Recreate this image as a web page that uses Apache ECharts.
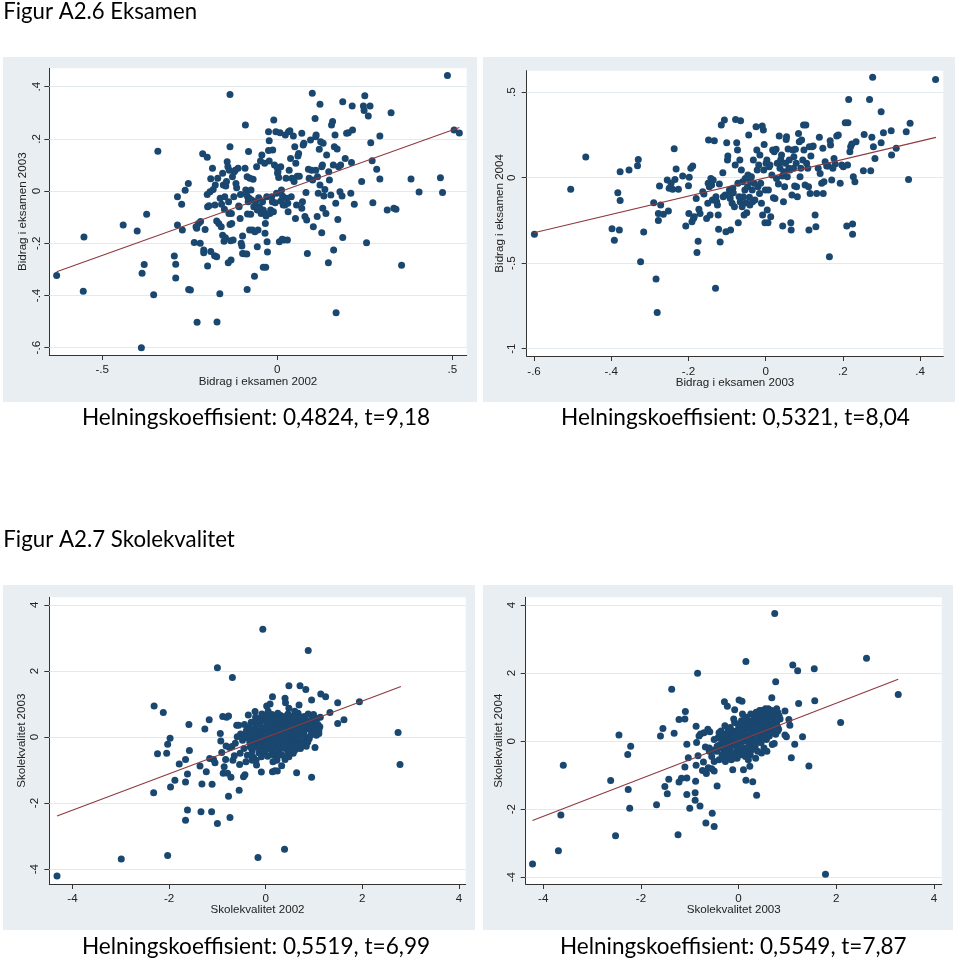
<!DOCTYPE html>
<html><head><meta charset="utf-8">
<script src="https://cdn.jsdelivr.net/npm/echarts@6/dist/echarts.min.js"></script>
<style>html,body{margin:0;padding:0;background:#fff}#c{width:960px;height:959px}</style>
</head><body><div id="c"></div>
<script>
// ---------------- DATA ----------------
const figureTitles = ['Figur A2.6 Eksamen', 'Figur A2.7 Skolekvalitet'];
const captions = [
  'Helningskoeffisient: 0,4824, t=9,18',
  'Helningskoeffisient: 0,5321, t=8,04',
  'Helningskoeffisient: 0,5519, t=6,99',
  'Helningskoeffisient: 0,5549, t=7,87'
];
const xNames = ['Bidrag i eksamen 2002', 'Bidrag i eksamen 2003', 'Skolekvalitet 2002', 'Skolekvalitet 2003'];
const yNames = ['Bidrag i eksamen 2003', 'Bidrag i eksamen 2004', 'Skolekvalitet 2003', 'Skolekvalitet 2004'];

const exam0203XTicks = [-0.5, 0, 0.5];
const exam0203YTicks = [-0.6, -0.4, -0.2, 0, 0.2, 0.4];
const exam0304XTicks = [-0.6, -0.4, -0.2, 0, 0.2, 0.4];
const exam0304YTicks = [-1, -0.5, 0, 0.5];
const schoolXTicks = [-4, -2, 0, 2, 4];
const schoolYTicks = [-4, -2, 0, 2, 4];

const exam02_03 = [
[-0.630,-0.324],[-0.552,-0.176],[-0.554,-0.384],[-0.440,-0.130],[-0.400,-0.153],[-0.386,-0.315],[-0.380,-0.281],[-0.388,-0.600],[-0.373,-0.089],[-0.353,-0.397],
[-0.341,0.152],[-0.294,-0.249],[-0.290,-0.280],[-0.290,-0.333],[-0.285,-0.022],[-0.285,-0.130],[-0.273,-0.051],[-0.271,-0.149],[-0.263,0.003],[-0.254,0.029],
[-0.253,-0.377],[-0.248,-0.379],[-0.237,-0.197],[-0.232,-0.137],[-0.230,-0.143],[-0.229,-0.503],[-0.225,-0.124],[-0.220,-0.200],[-0.219,-0.117],[-0.213,0.143],
[-0.210,-0.226],[-0.210,-0.236],[-0.206,-0.147],[-0.200,0.129],[-0.200,-0.013],[-0.199,-0.060],[-0.199,-0.287],[-0.195,-0.056],[-0.192,-0.003],[-0.190,-0.232],
[-0.190,0.047],[-0.185,0.087],[-0.183,0.006],[-0.179,-0.248],[-0.178,-0.054],[-0.177,0.023],[-0.173,-0.252],[-0.173,-0.115],[-0.172,-0.502],[-0.170,0.049],
[-0.167,-0.124],[-0.164,-0.393],[-0.163,-0.028],[-0.160,-0.137],[-0.159,-0.051],[-0.156,0.068],[-0.156,-0.169],[-0.154,0.023],[-0.152,-0.192],[-0.151,-0.070],
[-0.150,-0.022],[-0.148,-0.179],[-0.147,0.019],[-0.145,0.036],[-0.143,0.112],[-0.141,0.093],[-0.140,-0.275],[-0.139,-0.041],[-0.138,-0.086],[-0.137,0.080],
[-0.135,0.370],[-0.135,-0.128],[-0.135,0.170],[-0.133,-0.190],[-0.132,-0.264],[-0.131,-0.086],[-0.130,-0.124],[-0.128,0.055],[-0.126,-0.188],[-0.124,-0.022],
[-0.123,0.074],[-0.120,0.080],[-0.118,0.029],[-0.116,0.013],[-0.112,0.087],[-0.110,-0.057],[-0.109,-0.060],[-0.106,-0.105],[-0.105,-0.013],[-0.103,-0.200],
[-0.101,-0.211],[-0.099,-0.172],[-0.099,-0.239],[-0.095,-0.240],[-0.092,0.087],[-0.091,0.253],[-0.090,0.004],[-0.088,-0.013],[-0.087,-0.241],[-0.086,-0.377],
[-0.086,0.055],[-0.085,-0.088],[-0.084,-0.024],[-0.083,-0.041],[-0.082,0.151],[-0.080,-0.028],[-0.079,-0.149],[-0.078,0.049],[-0.076,-0.089],[-0.075,0.004],
[-0.073,-0.034],[-0.071,-0.149],[-0.069,0.045],[-0.067,-0.060],[-0.065,-0.326],[-0.064,-0.156],[-0.062,-0.041],[-0.059,0.093],[-0.057,-0.213],[-0.057,-0.073],
[-0.055,-0.149],[-0.053,-0.026],[-0.051,-0.060],[-0.050,-0.073],[-0.048,0.115],[-0.046,-0.086],[-0.044,0.138],[-0.042,-0.041],[-0.040,-0.073],[-0.040,-0.292],
[-0.038,-0.083],[-0.036,0.106],[-0.035,-0.162],[-0.034,-0.124],[-0.033,-0.292],[-0.032,-0.096],[-0.030,-0.022],[-0.029,-0.194],[-0.028,-0.234],[-0.025,0.227],
[-0.025,0.155],[-0.023,0.193],[-0.023,0.115],[-0.021,-0.086],[-0.019,-0.073],[-0.016,-0.022],[-0.014,-0.041],[-0.013,0.157],[-0.011,-0.079],[-0.010,0.272],
[-0.008,0.100],[-0.006,-0.045],[-0.004,0.227],[-0.002,-0.009],[0.000,0.089],[0.001,0.068],[0.002,0.074],[0.004,0.052],[0.006,-0.194],[0.008,0.223],
[0.010,0.093],[0.010,-0.038],[0.012,0.004],[0.014,-0.185],[0.015,-0.019],[0.017,-0.054],[0.019,-0.188],[0.022,-0.054],[0.023,0.215],[0.025,0.049],
[0.027,-0.028],[0.029,-0.188],[0.030,-0.047],[0.031,-0.079],[0.032,0.227],[0.034,0.080],[0.036,0.231],[0.038,0.125],[0.040,-0.022],[0.042,0.049],
[0.046,0.211],[0.048,0.036],[0.050,0.170],[0.052,-0.105],[0.053,0.106],[0.055,-0.054],[0.057,0.057],[0.059,0.134],[0.061,0.144],[0.063,0.057],
[0.070,0.221],[0.070,-0.066],[0.072,-0.041],[0.074,0.176],[0.076,0.183],[0.079,-0.098],[0.082,-0.006],[0.084,-0.111],[0.086,-0.239],[0.089,0.083],
[0.091,0.049],[0.095,0.195],[0.098,0.080],[0.100,0.374],[0.101,0.042],[0.103,-0.137],[0.108,0.278],[0.110,0.208],[0.110,0.080],[0.111,0.215],
[0.114,-0.098],[0.115,0.055],[0.117,-0.009],[0.120,0.160],[0.122,0.332],[0.122,0.023],[0.124,0.189],[0.127,-0.160],[0.127,0.093],[0.129,0.100],
[0.130,-0.066],[0.131,0.183],[0.133,-0.019],[0.136,0.006],[0.139,-0.086],[0.141,0.138],[0.146,-0.275],[0.147,0.074],[0.149,0.042],[0.153,-0.015],
[0.155,0.253],[0.158,0.266],[0.160,0.100],[0.161,-0.226],[0.163,0.170],[0.165,0.215],[0.167,-0.047],[0.168,-0.466],[0.171,0.161],[0.173,-0.109],
[0.175,0.093],[0.179,-0.003],[0.181,0.100],[0.185,-0.019],[0.187,0.342],[0.187,-0.178],[0.194,0.125],[0.198,0.221],[0.203,0.223],[0.210,-0.009],
[0.212,0.109],[0.214,0.326],[0.215,0.234],[0.220,-0.051],[0.241,0.036],[0.246,0.326],[0.248,0.308],[0.250,0.365],[0.255,-0.198],[0.260,0.287],
[0.265,0.326],[0.267,0.185],[0.271,0.116],[0.273,-0.045],[0.284,0.083],[0.293,0.211],[0.293,0.046],[0.314,-0.073],[0.325,0.300],[0.333,-0.066],
[0.339,-0.070],[0.355,-0.284],[0.382,0.046],[0.405,-0.004],[0.466,0.051],[0.472,-0.006],[0.486,0.442],[0.505,0.234],[0.520,0.222]
];
const fitExam0203 = [[-0.630, -0.309], [0.520, 0.243]];

const exam03_04 = [
[-0.599,-0.331],[-0.505,-0.068],[-0.466,0.121],[-0.398,-0.298],[-0.392,-0.366],[-0.383,-0.088],[-0.379,-0.306],[-0.377,-0.134],[-0.377,0.035],[-0.354,0.045],
[-0.332,0.070],[-0.330,0.107],[-0.324,-0.491],[-0.316,-0.318],[-0.290,-0.146],[-0.284,-0.593],[-0.281,-0.789],[-0.278,-0.209],[-0.278,-0.251],[-0.275,-0.049],
[-0.272,-0.160],[-0.265,-0.214],[-0.255,-0.014],[-0.252,-0.195],[-0.250,-0.062],[-0.245,-0.033],[-0.241,-0.068],[-0.237,0.170],[-0.235,-0.010],[-0.232,0.051],
[-0.226,-0.068],[-0.215,0.010],[-0.207,-0.283],[-0.200,-0.047],[-0.199,-0.209],[-0.198,0.002],[-0.194,0.055],[-0.191,-0.257],[-0.189,0.068],[-0.187,-0.238],
[-0.185,-0.228],[-0.180,-0.121],[-0.178,-0.437],[-0.175,-0.372],[-0.173,-0.185],[-0.170,-0.209],[-0.163,-0.082],[-0.160,-0.096],[-0.153,-0.238],[-0.150,-0.150],
[-0.149,-0.033],[-0.148,0.220],[-0.146,-0.053],[-0.144,-0.218],[-0.142,-0.004],[-0.140,-0.043],[-0.138,-0.131],[-0.136,-0.014],[-0.133,0.216],[-0.130,-0.647],
[-0.129,-0.111],[-0.127,-0.140],[-0.125,-0.160],[-0.123,-0.218],[-0.122,-0.302],[-0.120,-0.037],[-0.118,-0.376],[-0.115,0.308],[-0.111,0.029],[-0.110,-0.111],
[-0.107,0.337],[-0.105,-0.101],[-0.103,-0.316],[-0.101,0.205],[-0.099,0.103],[-0.098,0.127],[-0.094,-0.072],[-0.092,-0.121],[-0.091,-0.306],[-0.089,-0.092],
[-0.087,-0.150],[-0.085,-0.062],[-0.084,-0.088],[-0.081,-0.170],[-0.079,0.074],[-0.078,0.341],[-0.075,0.205],[-0.073,0.162],[-0.072,-0.033],[-0.071,-0.263],
[-0.069,-0.111],[-0.067,0.103],[-0.066,-0.140],[-0.065,0.333],[-0.063,0.045],[-0.061,-0.170],[-0.060,-0.023],[-0.058,-0.111],[-0.056,-0.218],[-0.054,-0.072],
[-0.053,-0.004],[-0.051,-0.146],[-0.049,-0.205],[-0.047,-0.053],[-0.046,0.016],[-0.044,0.250],[-0.042,-0.115],[-0.041,-0.160],[-0.039,-0.023],[-0.037,0.006],
[-0.035,-0.072],[-0.034,-0.140],[-0.032,0.103],[-0.030,-0.033],[-0.028,-0.131],[-0.025,0.298],[-0.023,0.162],[-0.022,0.045],[-0.020,-0.053],[-0.018,0.074],
[-0.016,-0.092],[-0.015,0.133],[-0.013,-0.033],[-0.011,-0.150],[-0.009,0.302],[-0.008,-0.218],[-0.006,0.279],[-0.005,0.045],[-0.004,0.195],[-0.002,-0.263],
[-0.001,-0.072],[0.001,0.084],[0.003,0.103],[0.004,-0.189],[0.006,-0.263],[0.007,-0.072],[0.009,0.064],[0.011,0.074],[0.013,-0.228],[0.016,0.016],
[0.018,0.162],[0.020,-0.117],[0.022,0.152],[0.024,-0.121],[0.027,0.166],[0.028,-0.004],[0.030,0.084],[0.033,-0.037],[0.035,0.244],[0.036,0.088],
[0.037,0.055],[0.039,0.107],[0.041,0.133],[0.043,0.010],[0.044,-0.283],[0.046,-0.140],[0.047,0.035],[0.049,-0.053],[0.051,0.084],[0.053,0.224],
[0.054,0.240],[0.056,0.006],[0.058,0.168],[0.060,0.055],[0.061,0.103],[0.063,0.045],[0.065,-0.263],[0.066,-0.306],[0.068,-0.101],[0.070,0.162],
[0.072,0.055],[0.073,0.123],[0.075,-0.049],[0.077,0.166],[0.079,0.084],[0.080,-0.053],[0.082,-0.111],[0.085,0.259],[0.087,0.211],[0.089,0.006],
[0.091,0.055],[0.093,0.220],[0.096,0.103],[0.098,0.308],[0.099,0.162],[0.102,-0.043],[0.104,0.308],[0.106,0.084],[0.109,0.055],[0.111,-0.053],
[0.112,-0.306],[0.113,0.181],[0.115,-0.092],[0.117,0.127],[0.120,0.181],[0.123,0.185],[0.128,-0.218],[0.130,-0.287],[0.132,-0.092],[0.136,0.055],
[0.139,0.236],[0.141,0.025],[0.145,-0.033],[0.148,0.172],[0.149,-0.092],[0.151,-0.023],[0.154,0.094],[0.158,0.068],[0.162,0.068],[0.165,-0.462],
[0.167,0.216],[0.168,0.191],[0.171,-0.014],[0.174,0.055],[0.177,0.113],[0.180,0.080],[0.184,0.244],[0.188,0.250],[0.193,-0.033],[0.197,0.074],
[0.201,0.064],[0.206,0.322],[0.210,-0.283],[0.212,0.074],[0.213,0.322],[0.215,0.458],[0.218,0.152],[0.220,0.181],[0.223,0.197],[0.225,-0.271],
[0.225,-0.331],[0.227,0.006],[0.231,-0.023],[0.234,0.211],[0.253,0.041],[0.255,0.253],[0.269,0.458],[0.272,0.041],[0.275,0.236],[0.277,0.587],
[0.279,0.181],[0.283,0.113],[0.299,0.386],[0.299,0.205],[0.305,0.263],[0.325,0.275],[0.326,0.133],[0.338,0.172],[0.364,0.269],[0.370,-0.010],
[0.374,0.318],[0.440,0.575]
];
const fitExam0304 = [[-0.600, -0.322], [0.441, 0.236]];

const school02_03 = [
[-4.32,-4.21],[-2.99,-3.69],[-2.31,0.94],[-2.32,-1.69],[-2.12,0.74],[-2.24,-0.51],[-2.05,-0.49],[-2.03,-0.22],[-1.98,-0.04],[-2.03,-3.59],
[-1.97,-1.51],[-1.88,-1.31],[-1.79,-0.82],[-1.66,-0.68],[-1.66,-1.36],[-1.66,-2.52],[-1.62,-1.12],[-1.62,-2.21],[-1.59,0.38],[-1.58,-0.41],
[-1.36,-0.88],[-1.34,-2.26],[-1.32,-1.42],[-1.26,0.24],[-1.23,-1.05],[-1.17,0.52],[-1.16,-0.65],[-1.12,-2.26],[-1.11,-1.43],[-1.08,-0.68],
[-1.05,-0.78],[-1.00,2.10],[-1.00,-2.62],[-0.94,0.11],[-0.93,-0.12],[-0.91,-0.47],[-0.89,0.62],[-0.88,-1.10],[-0.86,-0.90],[-0.83,-0.68],
[-0.82,-0.27],[-0.81,0.60],[-0.79,-1.10],[-0.77,0.64],[-0.77,-1.79],[-0.75,-0.32],[-0.74,-2.44],[-0.72,-1.22],[-0.70,-0.29],[-0.69,1.80],
[-0.68,-0.70],[-0.65,-0.57],[-0.63,-0.19],[-0.60,0.36],[-0.59,0.01],[-0.56,0.36],[-0.55,-1.61],[-0.54,-0.83],[-0.53,-0.49],[-0.52,0.09],
[-0.46,-1.20],[-0.43,-1.14],[-0.41,-0.75],[-0.36,0.67],[-0.28,-0.70],[-0.22,0.77],[-0.19,-0.85],[-0.16,-3.65],[-0.09,-1.06],[-0.06,3.26],
[0.02,0.94],[0.09,1.00],[0.14,1.22],[0.14,-1.05],[0.19,-1.02],[0.23,-0.70],[0.24,-1.03],[0.33,-0.87],[0.39,-3.40],[0.40,1.17],
[0.41,1.04],[0.48,1.55],[0.48,0.87],[0.57,-0.49],[0.64,-1.08],[0.66,-0.34],[0.69,0.97],[0.71,1.55],[0.81,-0.14],[0.82,-0.22],
[0.83,1.44],[0.88,2.62],[0.95,1.12],[0.95,-1.22],[1.02,-0.32],[1.10,0.11],[1.12,0.31],[1.14,1.30],[1.24,1.22],[1.33,0.74],
[1.49,1.04],[1.49,0.41],[1.62,0.52],[1.94,1.07],[2.74,0.14],[2.78,-0.83],
[-0.45,-0.35],[-0.42,0.05],[-0.38,-0.55],[-0.35,0.30],[-0.33,-0.15],[-0.30,0.45],[-0.28,-0.40],[-0.27,0.12],[-0.25,-0.62],[-0.22,0.28],
[-0.20,-0.05],[-0.18,-0.30],[-0.17,0.55],[-0.15,0.15],[-0.14,-0.48],[-0.12,0.38],[-0.10,-0.12],[-0.09,-0.60],[-0.07,0.05],[-0.06,0.50],
[-0.05,-0.28],[-0.03,0.22],[-0.02,-0.45],[0.00,0.62],[0.01,-0.08],[0.02,0.35],[0.04,-0.58],[0.05,0.12],[0.06,-0.22],[0.08,0.48],
[0.09,-0.38],[0.10,0.25],[0.12,-0.02],[0.13,0.68],[0.14,-0.50],[0.15,0.05],[0.17,0.40],[0.18,-0.15],[0.19,0.58],[0.20,-0.32],
[0.22,0.18],[0.23,-0.65],[0.24,0.30],[0.26,-0.08],[0.27,0.50],[0.28,-0.42],[0.30,0.10],[0.31,0.65],[0.32,-0.25],[0.34,0.35],
[0.35,-0.55],[0.36,0.20],[0.38,-0.10],[0.39,0.55],[0.40,-0.35],[0.42,0.02],[0.43,0.42],[0.44,-0.20],[0.46,0.70],[0.47,-0.45],
[0.48,0.25],[0.50,-0.05],[0.51,0.50],[0.52,-0.30],[0.54,0.15],[0.55,0.62],[0.56,-0.15],[0.58,0.35],[0.60,-0.40],[0.61,0.05],
[0.62,0.55],[0.64,-0.25],[0.65,0.30],[0.67,0.72],[0.68,-0.08],[0.70,0.45],[0.72,-0.35],[0.73,0.15],[0.75,0.60],[0.76,-0.18],
[0.78,0.38],[0.80,0.02],[0.82,0.52],[0.84,-0.28],[0.86,0.25],[0.88,0.70],[0.90,-0.05],[0.92,0.42],[0.95,0.15],[0.97,0.58],
[1.00,0.30],[1.03,0.48],[1.05,0.05],[1.08,0.38],[1.10,0.20],[1.13,0.60],
[-0.40,0.20],[-0.32,-0.30],[-0.24,0.00],[-0.19,0.42],[-0.11,0.20],[-0.04,-0.05],[0.03,0.05],[0.07,0.30],[0.11,0.10],[0.16,-0.35],
[0.21,0.40],[0.25,0.05],[0.29,0.25],[0.33,0.00],[0.37,0.45],[0.41,0.20],[0.45,-0.10],[0.49,0.40],[0.53,0.05],[0.57,0.20],
[0.63,0.40],[0.69,0.20],[0.74,0.35],[0.79,0.15],[0.85,0.50],[0.91,0.25],[-0.08,0.70],[0.05,0.78],[0.25,0.72],[0.60,0.78],
[0.15,-0.75],[-0.20,-0.70],[0.40,-0.68],
[-0.48,-0.10],[-0.44,0.38],[-0.37,-0.02],[-0.31,0.15],[-0.29,-0.55],[-0.23,-0.18],[-0.21,0.60],[-0.16,0.02],[-0.13,-0.25],[-0.11,0.50],
[-0.06,-0.40],[-0.01,0.28],[0.02,-0.30],[0.04,0.45],[0.08,-0.12],[0.12,0.60],[0.13,0.20],[0.17,-0.55],[0.18,0.30],[0.21,-0.20],
[0.23,0.55],[0.26,-0.50],[0.28,0.38],[0.30,-0.15],[0.33,0.58],[0.35,0.12],[0.37,-0.30],[0.41,0.62],[0.43,-0.05],[0.46,0.30],
[0.48,-0.60],[0.50,0.15],[0.53,0.45],[0.55,-0.22],[0.58,0.60],[0.60,0.10],[0.62,-0.10],[0.66,0.50],[0.68,0.05],[0.70,-0.25],
[0.73,0.55],[0.77,0.10],[0.80,0.62],[0.83,0.30],[0.87,-0.15],[0.89,0.45],[0.93,0.05],[0.96,0.35],[0.99,0.68],[1.02,0.18],
[1.06,0.55],[-0.26,-0.30],[0.00,0.10],[0.10,0.40],[0.20,0.00],[0.30,0.30],[0.40,0.00],[0.50,0.30],[0.60,0.25],[0.70,0.30],
[0.80,0.30],[0.45,0.50],[0.25,-0.35],[0.05,-0.15]
];
const fitSchool0203 = [[-4.32, -2.39], [2.80, 1.53]];

const school03_04 = [
[-4.22,-3.61],[-3.69,-3.22],[-3.64,-2.17],[-3.59,-0.71],[-2.62,-1.16],[-2.52,-2.78],[-2.45,0.18],[-2.27,-0.39],[-2.26,-1.42],[-2.23,-1.97],
[-2.21,-0.15],[-1.68,-1.87],[-1.60,0.15],[-1.55,0.37],[-1.51,-1.33],[-1.46,-1.55],[-1.43,-1.12],[-1.37,1.53],[-1.32,0.23],[-1.24,-2.75],
[-1.22,0.64],[-1.22,-1.20],[-1.17,-1.09],[-1.10,-0.76],[-1.10,0.65],[-1.09,0.87],[-1.06,-0.09],[-1.06,-1.57],[-1.06,-1.08],[-1.03,-0.49],
[-1.00,-1.97],[-0.89,-1.52],[-0.89,-1.74],[-0.88,-1.18],[-0.87,0.44],[-0.87,-0.71],[-0.86,-0.04],[-0.84,2.00],[-0.83,-0.43],[-0.81,0.15],
[-0.79,-1.91],[-0.78,0.21],[-0.74,-0.86],[-0.72,-0.61],[-0.71,0.25],[-0.68,-0.17],[-0.67,-2.41],[-0.66,-0.95],[-0.63,0.35],[-0.62,-0.78],
[-0.60,-0.30],[-0.59,0.28],[-0.55,-0.81],[-0.54,-2.12],[-0.52,-0.27],[-0.50,-0.88],[-0.50,-2.51],[-0.44,-1.32],[-0.29,1.16],[-0.23,1.03],
[-0.12,-0.84],[-0.08,0.92],[0.01,1.21],[0.07,1.17],[0.10,-0.84],[0.15,2.34],[0.15,-1.15],[0.23,-0.74],[0.29,-1.19],[0.37,-1.59],
[0.68,1.28],[0.74,3.75],[0.76,1.75],[0.73,-0.07],[0.80,0.42],[0.95,0.89],[0.95,0.18],[0.98,0.13],[1.03,0.64],[1.05,0.47],
[1.08,-0.49],[1.11,2.24],[1.15,-0.09],[1.21,2.07],[1.23,1.11],[1.31,0.13],[1.44,-0.73],[1.55,2.13],[1.56,1.19],[1.78,-3.91],
[2.09,0.55],[2.62,2.44],[3.27,1.37],
[-0.45,-0.30],[-0.42,0.10],[-0.40,-0.55],[-0.38,-0.10],[-0.36,0.30],[-0.34,-0.40],[-0.32,0.05],[-0.30,-0.25],[-0.28,0.45],[-0.27,-0.60],
[-0.25,-0.05],[-0.23,0.25],[-0.22,-0.45],[-0.20,0.10],[-0.18,-0.20],[-0.17,0.40],[-0.15,-0.55],[-0.13,0.00],[-0.12,0.20],[-0.10,-0.35],
[-0.08,0.55],[-0.07,-0.10],[-0.05,0.30],[-0.03,-0.50],[-0.02,0.10],[0.00,0.45],[0.01,-0.25],[0.03,0.20],[0.04,-0.05],[0.06,0.60],
[0.07,-0.40],[0.09,0.35],[0.10,0.00],[0.12,0.50],[0.13,-0.20],[0.15,0.25],[0.16,0.70],[0.18,-0.35],[0.19,0.10],[0.21,0.45],
[0.22,-0.10],[0.24,0.30],[0.25,0.80],[0.27,-0.25],[0.28,0.15],[0.30,0.60],[0.31,0.00],[0.33,0.40],[0.34,-0.15],[0.36,0.85],
[0.37,0.25],[0.39,-0.30],[0.40,0.55],[0.42,0.10],[0.43,0.90],[0.45,0.35],[0.46,-0.05],[0.48,0.70],[0.49,0.20],[0.51,0.50],
[0.52,-0.20],[0.54,0.85],[0.55,0.30],[0.57,0.05],[0.58,0.65],[0.60,0.40],[0.61,0.95],[0.63,0.15],[0.64,0.55],[0.66,0.80],
[0.67,0.30],[0.69,-0.10],[0.70,0.60],[0.72,0.45],[0.74,0.75],[0.76,0.20],[0.78,0.55],[0.80,0.85],[0.82,0.35],[0.85,0.65],
[-0.35,-0.20],[-0.26,0.15],[-0.19,-0.30],[-0.14,0.30],[-0.06,0.05],[0.00,-0.40],[0.05,0.15],[0.11,0.30],[0.14,-0.45],[0.20,0.60],
[0.26,0.05],[0.32,0.25],[0.38,0.70],[0.44,0.20],[0.50,0.40],[0.56,0.75],[0.62,0.50],[0.68,0.90],[0.35,-0.50],[0.47,-0.35],
[0.58,-0.30],[0.20,-0.55],[-0.10,0.65],[0.08,0.80],[-0.55,-0.45],[-0.60,-0.20],[-0.50,0.05],
[-0.50,-0.60],[-0.44,-0.15],[-0.40,0.25],[-0.33,-0.50],[-0.31,0.20],[-0.29,-0.10],[-0.24,-0.30],[-0.21,0.35],[-0.16,-0.10],[-0.11,-0.50],
[-0.09,0.15],[-0.04,-0.20],[-0.01,0.30],[0.02,-0.10],[0.04,0.50],[0.08,-0.30],[0.10,0.20],[0.13,0.65],[0.17,0.05],[0.19,-0.20],
[0.22,0.35],[0.24,-0.40],[0.26,0.55],[0.29,0.35],[0.31,0.75],[0.33,-0.05],[0.35,0.50],[0.38,0.05],[0.41,0.75],[0.42,0.30],
[0.45,0.60],[0.47,0.90],[0.50,0.10],[0.53,0.65],[0.55,0.95],[0.58,0.25],[0.60,0.75],[0.63,0.35],[0.65,0.65],[0.70,0.80],
[0.72,0.25],[0.75,0.50],[0.78,0.95],[0.80,0.30],[0.83,0.75],[0.40,0.40],[0.30,0.45],[0.20,0.25],[0.10,0.10],[0.00,0.00],
[-0.10,-0.05],[-0.20,-0.15],[0.50,0.55],[0.60,0.60],[0.70,0.45]
];
const fitSchool0304 = [[-4.22, -2.33], [3.27, 1.82]];

// ---------------- LAYOUT / STYLE ----------------
const AX_FONT = '"Liberation Sans", Arial, sans-serif';
const CAP_FONT = 'Lato';
const NAVY = '#1a476f';
const FIT = '#8f3a3e';
const BG = '#e8eef1';
const AXC = '#333';
const GRIDC = '#e2eaed';

const panels = [
  { data: exam02_03, fit: fitExam0203, xTicks: exam0203XTicks, yTicks: exam0203YTicks,
    xr: [-0.651, 0.541], yr: [-0.628, 0.47], grid: [49.3, 68.3, 417.4, 286.7], bg: [3, 57, 474, 345],
    xLM: 9, xNG: 20.7, yLM: 6.6, yNG: 20.6 },
  { data: exam03_04, fit: fitExam0304, xTicks: exam0304XTicks, yTicks: exam0304YTicks,
    xr: [-0.619, 0.46], yr: [-1.043, 0.626], grid: [526.7, 70.7, 416.6, 285.3], bg: [483, 57, 472, 345],
    xLM: 9.7, xNG: 20.7, yLM: 9, yNG: 21.4 },
  { data: school02_03, fit: fitSchool0203, xTicks: schoolXTicks, yTicks: schoolYTicks,
    xr: [-4.48, 4.14], yr: [-4.45, 4.23], grid: [49.3, 597.3, 416.4, 286.7], bg: [3, 585, 472, 345],
    xLM: 8.3, xNG: 20, yLM: 8.3, yNG: 21.6 },
  { data: school03_04, fit: fitSchool0304, xTicks: schoolXTicks, yTicks: schoolYTicks,
    xr: [-4.36, 4.16], yr: [-4.2, 4.23], grid: [525.7, 597.3, 416, 286.7], bg: [483, 585, 470, 345],
    xLM: 8.3, xNG: 20, yLM: 8, yNG: 21.4 }
];

function stataLabel(v) {
  const s = String(Math.round(v * 1000) / 1000);
  return s.replace(/^(-?)0\./, '$1.');
}

function fitSize(text, family, target) {
  const ctx = document.createElement('canvas').getContext('2d');
  ctx.font = '100px ' + family;
  const w = ctx.measureText(text).width;
  return w > 0 ? 100 * target / w : 20;
}

const textItems = [
  { text: figureTitles[0], x: 3.3, baseline: 19.8, width: 194, align: 'left' },
  { text: figureTitles[1], x: 3.3, baseline: 547.5, width: 231.7, align: 'left' },
  { text: captions[0], x: 256, baseline: 425.5, width: 348.3, align: 'center' },
  { text: captions[1], x: 735.5, baseline: 425.5, width: 349, align: 'center' },
  { text: captions[2], x: 256, baseline: 954.5, width: 348.3, align: 'center' },
  { text: captions[3], x: 733.3, baseline: 954.5, width: 346.7, align: 'center' }
];

function axisCommon(p, isX) {
  const ticks = isX ? p.xTicks : p.yTicks;
  return {
    type: 'value',
    min: isX ? p.xr[0] : p.yr[0],
    max: isX ? p.xr[1] : p.yr[1],
    name: '',
    nameLocation: 'middle',
    nameGap: isX ? p.xNG : p.yNG,
    nameRotate: isX ? 0 : 90,
    nameMoveOverlap: false,
    nameTextStyle: { fontFamily: AX_FONT, fontSize: 11.6, color: '#222' },
    axisLine: { show: true, onZero: false, lineStyle: { color: AXC, width: 1 } },
    axisTick: { show: true, customValues: ticks, length: 5, inside: false, lineStyle: { color: AXC, width: 1 } },
    axisLabel: { show: true, customValues: ticks, formatter: stataLabel, margin: isX ? p.xLM : p.yLM,
      rotate: isX ? 0 : 90, fontFamily: AX_FONT, fontSize: 11.6, color: '#222',
      showMinLabel: true, showMaxLabel: true, hideOverlap: false },
    splitLine: { show: false },
    minorTick: { show: false },
    splitArea: { show: false }
  };
}

const option = {
  animation: false,
  backgroundColor: '#fff',
  grid: panels.map(p => ({ left: p.grid[0], top: p.grid[1], width: p.grid[2], height: p.grid[3],
    show: true, backgroundColor: '#fff', borderWidth: 0, containLabel: false })),
  xAxis: panels.map((p, i) => Object.assign(axisCommon(p, true), { gridIndex: i, name: xNames[i] })),
  yAxis: panels.map((p, i) => Object.assign(axisCommon(p, false), { gridIndex: i, name: yNames[i] })),
  series: [],
  graphic: { elements: [] }
};

panels.forEach((p, i) => {
  option.series.push({
    type: 'line', xAxisIndex: i, yAxisIndex: i, data: [], silent: true, z: 1,
    markLine: { silent: true, symbol: ['none', 'none'], label: { show: false }, z: 1,
      lineStyle: { color: GRIDC, type: 'solid', width: 1 },
      emphasis: { disabled: true },
      data: p.yTicks.map(v => ({ yAxis: v })) }
  });
  option.series.push({
    type: 'scatter', xAxisIndex: i, yAxisIndex: i, data: p.data, symbol: 'circle', symbolSize: 7,
    itemStyle: { color: NAVY, opacity: 1 }, silent: true, z: 3
  });
  option.series.push({
    type: 'line', xAxisIndex: i, yAxisIndex: i, data: p.fit, symbol: 'none', showSymbol: false,
    lineStyle: { color: FIT, width: 1.1 }, silent: true, z: 4
  });
  option.graphic.elements.push({
    type: 'rect', z: -10, silent: true,
    shape: { x: p.bg[0], y: p.bg[1], width: p.bg[2], height: p.bg[3] },
    style: { fill: BG }
  });
});

textItems.forEach(t => {
  const fs = fitSize(t.text, CAP_FONT, t.width);
  option.graphic.elements.push({
    type: 'text', z: 10, silent: true,
    style: { text: t.text, x: t.x, y: t.baseline - 0.35 * fs, font: fs.toFixed(2) + 'px ' + CAP_FONT,
      fill: '#000', align: t.align, verticalAlign: 'middle' }
  });
});

const chart = echarts.init(document.getElementById('c'), null, { renderer: 'canvas', width: 960, height: 959 });
chart.setOption(option);
</script>
</body></html>
